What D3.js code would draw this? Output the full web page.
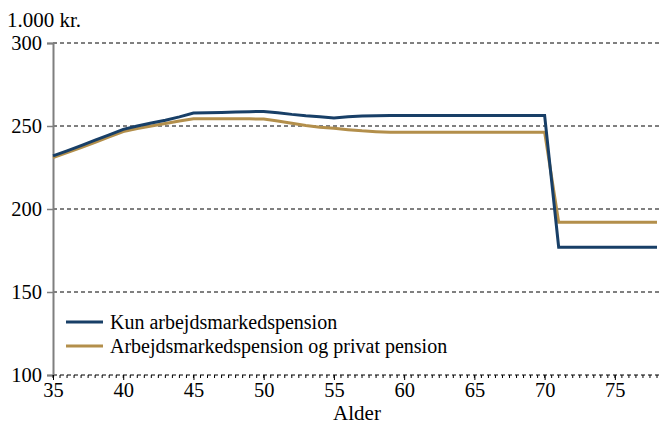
<!DOCTYPE html>
<html>
<head>
<meta charset="utf-8">
<script src="https://cdn.jsdelivr.net/npm/d3@7/dist/d3.min.js"></script>
<style>
  html, body { margin: 0; padding: 0; background: #fff; }
</style>
</head>
<body>
<svg id="chart" width="659" height="425"></svg>
<script>
// Alder (år)
const ages = d3.range(35, 79);
// Kun arbejdsmarkedspension, 1.000 kr.
const kunArbejdsmarked = [
  232, 235, 238.2, 241.5, 244.7, 248, 250, 251.8, 253.5, 255.5,
  257.8, 258, 258.2, 258.4, 258.6, 258.8, 258, 257, 256.2, 255.6,
  254.8, 255.5, 256, 256.2, 256.4, 256.4, 256.4, 256.4, 256.4, 256.4,
  256.4, 256.4, 256.4, 256.4, 256.4, 256.4, 177, 177, 177, 177,
  177, 177, 177, 177
];
// Arbejdsmarkedspension og privat pension, 1.000 kr.
const medPrivat = [
  231, 234, 237, 240.2, 243.4, 246.6, 248.5, 250, 251.5, 253,
  254.4, 254.4, 254.4, 254.4, 254.3, 254.2, 253, 251.6, 250.3, 249.3,
  248.6, 247.8, 247.1, 246.6, 246.2, 246.2, 246.2, 246.2, 246.2, 246.2,
  246.2, 246.2, 246.2, 246.2, 246.2, 246.2, 192, 192, 192, 192,
  192, 192, 192, 192
];
const yTicks = [100, 150, 200, 250, 300];
const xTicks = [35, 40, 45, 50, 55, 60, 65, 70, 75];
const seriesNames = ["Kun arbejdsmarkedspension", "Arbejdsmarkedspension og privat pension"];
const seriesColors = ["#183f67", "#b38f4b"];

const FONT = "Liberation Serif, DejaVu Serif, serif";
const svg = d3.select("#chart");
const plotLeft = 53, plotRight = 659, plotTop = 43, plotBottom = 375;

const x = d3.scaleLinear().domain([35, 78]).range([plotLeft, 657]);
const y = d3.scaleLinear().domain([100, 300]).range([plotBottom, plotTop]);

// dashed horizontal gridlines
svg.append("g").selectAll("line").data(yTicks).join("line")
  .attr("x1", plotLeft).attr("x2", plotRight)
  .attr("y1", d => y(d)).attr("y2", d => y(d))
  .attr("stroke", "#000").attr("stroke-width", 1)
  .attr("stroke-dasharray", "4,3");

// y axis
const yAxis = d3.axisLeft(y).tickValues(yTicks).tickSize(6).tickPadding(5);
const gy = svg.append("g").attr("transform", `translate(${plotLeft},0)`).call(yAxis)
  .attr("font-family", FONT).attr("font-size", 20.5);
gy.select(".domain").attr("stroke", "#7f7f7f").attr("stroke-width", 2);
gy.selectAll(".tick line").attr("stroke", "#7f7f7f").attr("stroke-width", 1.5);
gy.selectAll(".tick text").attr("fill", "#000").attr("dy", "0.34em");

// x axis: major ticks with labels, minor ticks every half year
const gx = svg.append("g").attr("transform", `translate(0,${plotBottom})`);
gx.selectAll("line.minor").data(d3.range(35, 78.6, 0.5)).join("line")
  .attr("class", "minor")
  .attr("x1", d => x(d)).attr("x2", d => x(d))
  .attr("y1", 0).attr("y2", 3)
  .attr("stroke", "#000").attr("stroke-width", 1);
const xAxis = d3.axisBottom(x).tickValues(xTicks).tickSize(5).tickPadding(2);
const gxm = gx.append("g").call(xAxis).attr("font-family", FONT).attr("font-size", 20.5);
gxm.select(".domain").remove();
gxm.selectAll(".tick line").attr("stroke", "#000");
gxm.selectAll(".tick text").attr("fill", "#000");

// y axis title
svg.append("text").attr("x", 7).attr("y", 27)
  .attr("font-family", FONT).attr("font-size", 21).text("1.000 kr.");
// x axis title
svg.append("text").attr("x", 357).attr("y", 420).attr("text-anchor", "middle")
  .attr("font-family", FONT).attr("font-size", 21).text("Alder");

// series lines
const line = d3.line().x((d, i) => x(ages[i])).y(d => y(d));
const seriesData = [kunArbejdsmarked, medPrivat];
// draw gold first so the navy line sits on top
[1, 0].forEach(k => {
  svg.append("path").datum(seriesData[k])
    .attr("d", line)
    .attr("fill", "none")
    .attr("stroke", seriesColors[k])
    .attr("stroke-width", 3)
    .attr("stroke-linejoin", "miter");
});

// legend
const lg = svg.append("g");
seriesNames.forEach((name, i) => {
  const ly = 322 + i * 24;
  lg.append("line").attr("x1", 66).attr("x2", 103).attr("y1", ly).attr("y2", ly)
    .attr("stroke", seriesColors[i]).attr("stroke-width", 3);
  lg.append("text").attr("x", 110).attr("y", ly).attr("dy", "0.33em")
    .attr("font-family", FONT).attr("font-size", 20).text(name);
});
</script>
</body>
</html>
